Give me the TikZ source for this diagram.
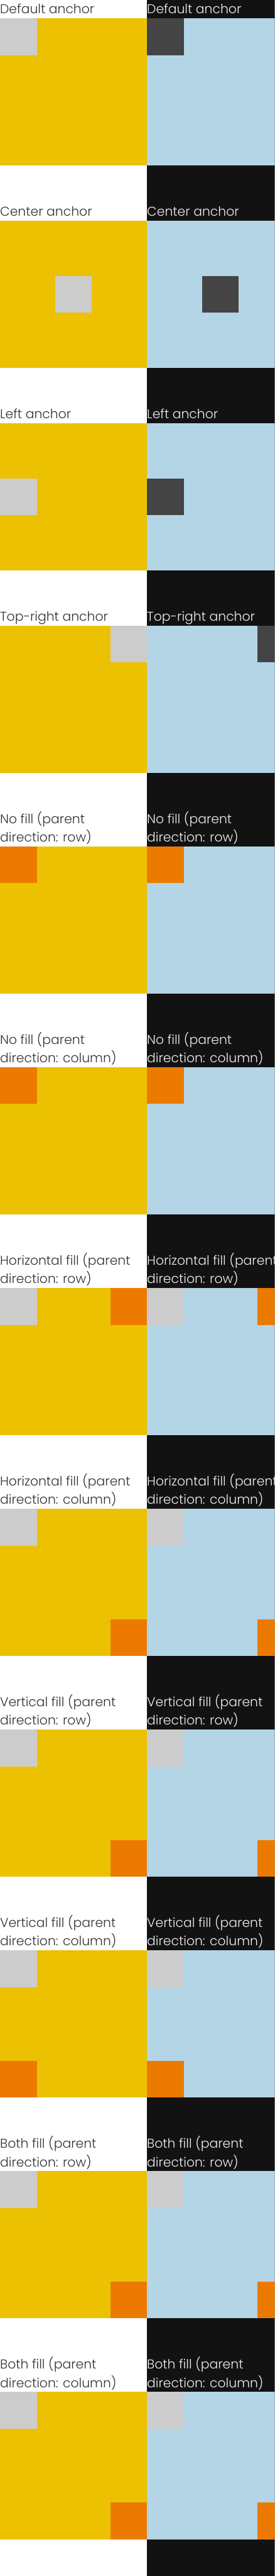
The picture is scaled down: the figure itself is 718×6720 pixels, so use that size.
\documentclass[tikz,border=0pt]{standalone}
\usepackage{fontspec}
\setmainfont{Poppins}[UprightFont={* Light}]
\definecolor{lightbg}{HTML}{FFFFFF}
\definecolor{darkbg}{HTML}{121212}
\definecolor{lighttext}{HTML}{333333}
\definecolor{darktext}{HTML}{EEEEEE}
\definecolor{yellowbox}{HTML}{ECC101}
\definecolor{bluebox}{HTML}{B3D5E6}
\definecolor{lightmark}{HTML}{CCCCCC}
\definecolor{darkmark}{HTML}{444444}
\definecolor{orangemark}{HTML}{EC7A00}
\tikzset{
  headline/.style={anchor=base west,inner sep=0pt,font=\fontsize{33.4}{48}\selectfont},
}
\begin{document}
\begin{tikzpicture}[x=1pt,y=-1pt]
\useasboundingbox (0,0) rectangle (718,6720);
\clip (0,0) rectangle (718,6720);
\fill[lightbg] (0,0) rectangle (384,6720);
\fill[darkbg] (384,0) rectangle (768,6720);
\foreach \ox/\fg/\pc/\mk in {0/lighttext/yellowbox/lightmark,384/darktext/bluebox/darkmark}{
\begin{scope}[xshift=\ox pt]
% anchor cases
\node[headline,text=\fg] (h1-\ox) at (0,36) {Default anchor};
\fill[fill=\pc] (0,48) rectangle +(384,384);
\fill[fill=\mk] (0,48) rectangle +(96,96);
\node[headline,text=\fg] (h2-\ox) at (0,564) {Center anchor};
\fill[fill=\pc] (0,576) rectangle +(384,384);
\fill[fill=\mk] (144,720) rectangle +(96,96);
\node[headline,text=\fg] (h3-\ox) at (0,1092) {Left anchor};
\fill[fill=\pc] (0,1104) rectangle +(384,384);
\fill[fill=\mk] (0,1248) rectangle +(96,96);
\node[headline,text=\fg] (h4-\ox) at (0,1620) {Top-right anchor};
\fill[fill=\pc] (0,1632) rectangle +(384,384);
\fill[fill=\mk] (288,1632) rectangle +(96,96);
% fill cases
\node[headline,text=\fg] (h5-\ox) at (0,2148) {No fill (parent};
\node[headline,text=\fg] (h5b-\ox) at (0,2196) {direction: row)};
\fill[fill=\pc] (0,2208) rectangle +(384,384);
\fill[orangemark] (0,2208) rectangle +(96,96);
\node[headline,text=\fg] (h6-\ox) at (0,2724) {No fill (parent};
\node[headline,text=\fg] (h6b-\ox) at (0,2772) {direction: column)};
\fill[fill=\pc] (0,2784) rectangle +(384,384);
\fill[orangemark] (0,2784) rectangle +(96,96);
\node[headline,text=\fg] (h7-\ox) at (0,3300) {Horizontal fill (parent};
\node[headline,text=\fg] (h7b-\ox) at (0,3348) {direction: row)};
\fill[fill=\pc] (0,3360) rectangle +(384,384);
\fill[lightmark] (0,3360) rectangle +(96,96);
\fill[orangemark] (288,3360) rectangle +(96,96);
\node[headline,text=\fg] (h8-\ox) at (0,3876) {Horizontal fill (parent};
\node[headline,text=\fg] (h8b-\ox) at (0,3924) {direction: column)};
\fill[fill=\pc] (0,3936) rectangle +(384,384);
\fill[lightmark] (0,3936) rectangle +(96,96);
\fill[orangemark] (288,4224) rectangle +(96,96);
\node[headline,text=\fg] (h9-\ox) at (0,4452) {Vertical fill (parent};
\node[headline,text=\fg] (h9b-\ox) at (0,4500) {direction: row)};
\fill[fill=\pc] (0,4512) rectangle +(384,384);
\fill[lightmark] (0,4512) rectangle +(96,96);
\fill[orangemark] (288,4800) rectangle +(96,96);
\node[headline,text=\fg] (h10-\ox) at (0,5028) {Vertical fill (parent};
\node[headline,text=\fg] (h10b-\ox) at (0,5076) {direction: column)};
\fill[fill=\pc] (0,5088) rectangle +(384,384);
\fill[lightmark] (0,5088) rectangle +(96,96);
\fill[orangemark] (0,5376) rectangle +(96,96);
\node[headline,text=\fg] (h11-\ox) at (0,5604) {Both fill (parent};
\node[headline,text=\fg] (h11b-\ox) at (0,5652) {direction: row)};
\fill[fill=\pc] (0,5664) rectangle +(384,384);
\fill[lightmark] (0,5664) rectangle +(96,96);
\fill[orangemark] (288,5952) rectangle +(96,96);
\node[headline,text=\fg] (h12-\ox) at (0,6180) {Both fill (parent};
\node[headline,text=\fg] (h12b-\ox) at (0,6228) {direction: column)};
\fill[fill=\pc] (0,6240) rectangle +(384,384);
\fill[lightmark] (0,6240) rectangle +(96,96);
\fill[orangemark] (288,6528) rectangle +(96,96);
\end{scope}
}
\end{tikzpicture}
\end{document}
